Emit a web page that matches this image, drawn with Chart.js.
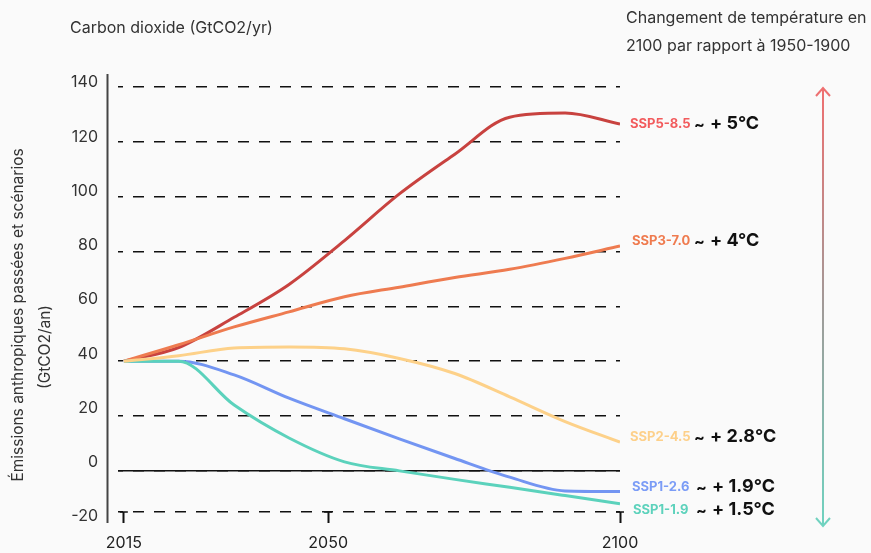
<!DOCTYPE html>
<html>
<head>
<meta charset="utf-8">
<script src="https://cdn.jsdelivr.net/npm/chart.js@4"></script>
<style>
  html, body { margin: 0; padding: 0; background: #fafafa; }
  canvas { display: block; }
</style>
</head>
<body>
<canvas id="co2Chart" width="871" height="553"></canvas>
<script>
// years where the curves bend in the picture
var years = [2015, 2024.4, 2033.9, 2043.3, 2052.8, 2062.2, 2071.7, 2081.1, 2090.6, 2100];

var ssp585 = [40, 45, 56, 68, 84, 101, 115.5, 129, 130.5, 126.5];
var ssp370 = [40, 46, 52.5, 58, 63.5, 67, 70.5, 73.5, 77.5, 82];
var ssp245 = [40, 42, 44.8, 45.2, 44.5, 41, 35.5, 27, 18, 10.5];
var ssp126 = [40, 40, 35, 26.5, 19, 11.7, 4.5, -2.3, -7.3, -7.5];
var ssp119 = [40, 40, 24, 12, 3.3, 0, -3.1, -6, -9, -12];

var scenarios = ['SSP5-8.5', 'SSP3-7.0', 'SSP2-4.5', 'SSP1-2.6', 'SSP1-1.9'];
var warming = ['+ 5°C', '+ 4°C', '+ 2.8°C', '+ 1.9°C', '+ 1.5°C'];

var xTicks = [2015, 2050, 2100];
var yTicks = [-20, 0, 20, 40, 60, 80, 100, 120, 140];

var lineColors = ['#c8423f', '#ee7b50', '#fdd189', '#7395f2', '#5bd2bc'];
var labelColors = ['#f25b5d', '#ef7b4f', '#fdd08a', '#7b9cf6', '#5dd2bc'];

function points(values) {
    return years.map(function (yr, i) { return { x: yr, y: values[i] }; });
}

Chart.defaults.font.family = 'Inter';

// zero line and the left axis line, under the curves
var axisLines = {
    id: 'axisLines',
    beforeDatasetsDraw: function (chart) {
        var ctx = chart.ctx, area = chart.chartArea;
        var y0 = chart.scales.y.getPixelForValue(0);
        ctx.save();
        ctx.strokeStyle = '#111';
        ctx.lineWidth = 1.5;
        ctx.beginPath();
        ctx.moveTo(area.left, y0);
        ctx.lineTo(area.right, y0);
        ctx.stroke();

        ctx.strokeStyle = '#444';
        ctx.lineWidth = 2;
        ctx.beginPath();
        ctx.moveTo(107.5, 74);
        ctx.lineTo(107.5, 523);
        ctx.stroke();

        // little caps on the x ticks
        ctx.strokeStyle = '#111';
        ctx.lineWidth = 1.5;
        xTicks.forEach(function (t) {
            var px = chart.scales.x.getPixelForValue(t);
            ctx.beginPath();
            ctx.moveTo(px - 4, area.bottom);
            ctx.lineTo(px + 4, area.bottom);
            ctx.stroke();
        });
        ctx.restore();
    }
};

// titles, scenario labels and the temperature arrow
var annotations = {
    id: 'annotations',
    afterDraw: function (chart) {
        var ctx = chart.ctx;
        ctx.save();
        ctx.fillStyle = '#333';
        ctx.font = '16px Inter';
        ctx.textAlign = 'left';
        ctx.textBaseline = 'middle';
        ctx.fillText('Carbon dioxide (GtCO2/yr)', 70, 28);
        ctx.fillText('Changement de température en', 626, 18);
        ctx.fillText('2100 par rapport à 1950-1900', 626, 46);

        // rotated y title, two lines with their own centres
        ctx.font = '15.5px Inter';
        ctx.textAlign = 'center';
        ctx.save();
        ctx.translate(18, 315);
        ctx.rotate(-Math.PI / 2);
        ctx.fillText('Émissions anthropiques passées et scénarios', 0, 0);
        ctx.restore();
        ctx.save();
        ctx.translate(45, 347);
        ctx.rotate(-Math.PI / 2);
        ctx.fillText('(GtCO2/an)', 0, 0);
        ctx.restore();

        // scenario names + warming
        var labelY = [124, 241, 437, 487, 510];
        var labelX = [630, 632, 630, 632, 633];
        var tempX = [694, 694, 694, 696, 696];
        ctx.textAlign = 'left';
        scenarios.forEach(function (name, i) {
            ctx.font = 'bold 13px Inter';
            ctx.fillStyle = labelColors[i];
            ctx.fillText(name, labelX[i], labelY[i]);
            ctx.fillStyle = '#111';
            ctx.font = 'bold 16px Inter';
            ctx.fillText('~', tempX[i], labelY[i] + 1);
            ctx.font = 'bold 18px Inter';
            ctx.fillText(warming[i], tempX[i] + 16, labelY[i]);
        });

        // vertical double arrow
        var ax = 823, top = 88, bottom = 526;
        var grad = ctx.createLinearGradient(0, top, 0, bottom);
        grad.addColorStop(0, '#ef6f70');
        grad.addColorStop(0.5, '#a09a98');
        grad.addColorStop(1, '#6fd3c0');
        ctx.strokeStyle = grad;
        ctx.lineWidth = 2;
        ctx.beginPath();
        ctx.moveTo(ax, top);
        ctx.lineTo(ax, bottom);
        ctx.moveTo(ax - 7, top + 8);
        ctx.lineTo(ax, top);
        ctx.lineTo(ax + 7, top + 8);
        ctx.moveTo(ax - 7, bottom - 8);
        ctx.lineTo(ax, bottom);
        ctx.lineTo(ax + 7, bottom - 8);
        ctx.stroke();
        ctx.restore();
    }
};

function series(values, color) {
    return {
        data: points(values),
        borderColor: color,
        borderWidth: 3,
        pointRadius: 0,
        fill: false,
        cubicInterpolationMode: 'monotone'
    };
}

var ctx = document.getElementById('co2Chart');
var myChart = new Chart(ctx, {
    type: 'line',
    data: {
        datasets: [
            series(ssp245, lineColors[2]),
            series(ssp119, lineColors[4]),
            series(ssp126, lineColors[3]),
            series(ssp370, lineColors[1]),
            series(ssp585, lineColors[0])
        ]
    },
    options: {
        responsive: false,
        animation: false,
        layout: { padding: { top: 87, right: 251, left: 0, bottom: 0 } },
        plugins: {
            legend: { display: false },
            tooltip: { enabled: false }
        },
        scales: {
            x: {
                type: 'linear',
                min: 2014,
                max: 2100,
                afterBuildTicks: function (scale) {
                    scale.ticks = xTicks.map(function (v) { return { value: v }; });
                },
                afterFit: function (scale) { scale.height = 41; },
                grid: {
                    drawOnChartArea: false,
                    drawTicks: true,
                    tickLength: 11,
                    tickWidth: 2,
                    tickColor: '#111'
                },
                border: { display: false },
                ticks: {
                    autoSkip: false,
                    maxRotation: 0,
                    padding: 11,
                    color: '#222',
                    font: { size: 16 },
                    callback: function (v) { return String(v); }
                }
            },
            // gridlines (bottom dashed line sits higher than the -20 label, as in the picture)
            y: {
                position: 'left',
                min: -15,
                max: 140,
                afterBuildTicks: function (scale) {
                    scale.ticks = yTicks.map(function (v) { return { value: Math.max(v, scale.min) }; });
                },
                afterFit: function (scale) { scale.width = 0; },
                grid: { color: '#111', lineWidth: 1.5, drawTicks: false },
                border: { display: false, dash: [11, 10], dashOffset: 6 },
                ticks: { display: false }
            },
            // tick label axis
            yl: {
                position: 'left',
                min: -18.3,
                max: 138.4,
                afterBuildTicks: function (scale) {
                    scale.ticks = yTicks.map(function (v) { return { value: v }; });
                },
                afterFit: function (scale) { scale.width = 118; },
                grid: { display: false, drawTicks: false },
                border: { display: false },
                ticks: {
                    autoSkip: false,
                    padding: 20,
                    color: '#333',
                    font: { size: 16 },
                    callback: function (v) { return String(v); }
                }
            }
        }
    },
    plugins: [axisLines, annotations]
});
</script>
</body>
</html>
